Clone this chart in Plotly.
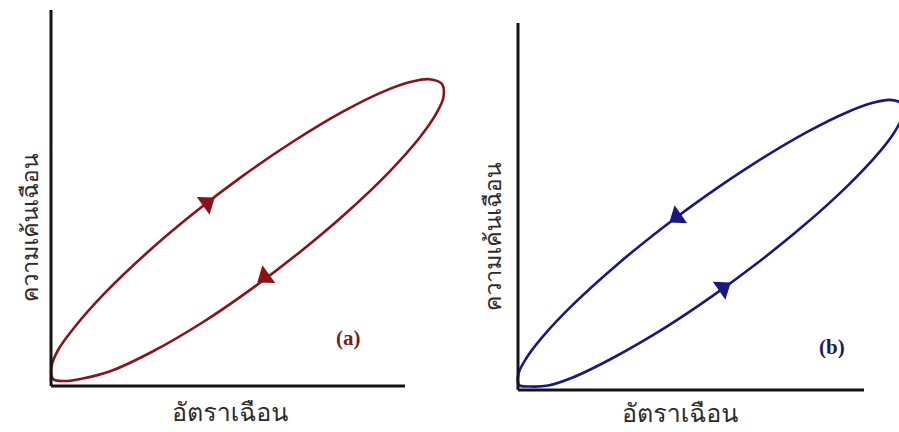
import math
import plotly.graph_objects as go

# Hysteresis loop (a): shear rate vs shear stress, traced in flow order
rate_a = [143.3, 191.1, 240.6, 292.3, 333.5, 360.3, 378.4, 391.0, 392.4, 384.9,
          368.7, 338.3, 294.6, 248.7, 200.9, 151.4, 99.7, 58.5, 31.7, 13.6,
          2.0, 0.5, 7.1, 23.3, 53.7, 97.4, 143.3]
stress_a = [173.2, 209.6, 243.5, 274.6, 294.9, 304.2, 306.8, 302.0, 288.6, 271.8,
            248.5, 214.2, 172.5, 133.8, 97.4, 63.5, 33.5, 14.5, 7.5, 5.0,
            7.0, 19.5, 36.0, 58.5, 92.8, 134.5, 173.2]

# Hysteresis loop (b): traced against flow order
rate_b = [147.3, 187.5, 237.5, 289.3, 330.3, 354.8, 372.5, 384.0, 384.5, 376.4,
          360.7, 329.3, 284.5, 237.7, 197.5, 147.5, 95.7, 54.7, 30.2, 12.5,
          1.0, 0.5, 8.6, 24.3, 55.7, 100.5, 147.3]
stress_b = [164.3, 193.9, 227.4, 258.1, 278.3, 287.2, 290.1, 286.0, 273.9, 257.8,
            237.1, 203.9, 163.4, 125.7, 96.1, 62.6, 32.5, 12.5, 4.5, 3.5,
            5.0, 16.5, 32.2, 52.9, 86.1, 126.6, 164.3]

# Flow-direction arrows on each branch
arrow_a_rate = [156, 214]
arrow_a_stress = [183, 109]
arrow_b_rate = [159, 205]
arrow_b_stress = [173, 102]

axis_len_a = (354, 376)
axis_len_b = (346, 367)

x_title = "อัตราเฉือน"
y_title = "ความเค้นเฉือน"
panel_labels = ["(a)", "(b)"]

RED = "rgb(138,18,24)"
BLUE = "rgb(24,24,128)"
INK = "#141414"
TEXT = "#2b2b2b"
THAI_FONT = "Norasi, Kinnari, Garuda, Loma, Noto Serif Thai, Noto Sans Thai, serif"


def headings(lx, ly, ax, ay, sense):
    """Marker angles (clockwise from north) following the loop at each arrow."""
    out = []
    for px, py in zip(ax, ay):
        i = min(range(1, len(lx) - 1), key=lambda k: (lx[k] - px) ** 2 + (ly[k] - py) ** 2)
        dx = (lx[i + 1] - lx[i - 1]) * sense
        dy = (ly[i + 1] - ly[i - 1]) * sense
        out.append(math.degrees(math.atan2(dx, dy)))
    return out


fig = go.Figure()

for lx, ly, ax, ay, sense, col, xa, ya in [
    (rate_a, stress_a, arrow_a_rate, arrow_a_stress, 1, RED, "x", "y"),
    (rate_b, stress_b, arrow_b_rate, arrow_b_stress, -1, BLUE, "x2", "y2"),
]:
    fig.add_trace(go.Scatter(
        x=lx, y=ly, mode="lines", xaxis=xa, yaxis=ya,
        line=dict(color=col, width=2.6, shape="spline", smoothing=1.0),
        hoverinfo="skip", showlegend=False,
    ))
    fig.add_trace(go.Scatter(
        x=ax, y=ay, mode="markers", xaxis=xa, yaxis=ya,
        marker=dict(symbol="triangle-up", size=19, color=col,
                    angle=headings(lx, ly, ax, ay, sense), line=dict(width=0)),
        hoverinfo="skip", showlegend=False,
    ))

shapes = []
for (lenx, leny), xr, yr in [(axis_len_a, "x", "y"), (axis_len_b, "x2", "y2")]:
    shapes.append(dict(type="line", xref=xr, yref=yr, x0=0, y0=0, x1=lenx, y1=0,
                       line=dict(color=INK, width=3)))
    shapes.append(dict(type="line", xref=xr, yref=yr, x0=0, y0=0, x1=0, y1=leny,
                       line=dict(color=INK, width=3)))

annotations = []
for (lenx, leny), xr, yr, lab, labcol, lab_pos, xt, yt in [
    (axis_len_a, "x", "y", panel_labels[0], "rgb(120,28,30)", (297, 48), (179, -26), (-21, 158)),
    (axis_len_b, "x2", "y2", panel_labels[1], "rgb(28,28,90)", (314, 43), (162, -23), (-25, 153)),
]:
    annotations.append(dict(x=xt[0], y=xt[1], xref=xr, yref=yr, text=x_title,
                            showarrow=False, font=dict(family=THAI_FONT, size=25, color=TEXT)))
    annotations.append(dict(x=yt[0], y=yt[1], xref=xr, yref=yr, text=y_title,
                            textangle=-90, showarrow=False,
                            font=dict(family=THAI_FONT, size=23, color=TEXT)))
    annotations.append(dict(x=lab_pos[0], y=lab_pos[1], xref=xr, yref=yr,
                            text="<b>%s</b>" % lab, showarrow=False,
                            font=dict(family="Liberation Serif, serif", size=21, color=labcol)))

hidden = dict(visible=False, fixedrange=True)
split = 450 / 899
fig.update_layout(
    width=899, height=432,
    margin=dict(l=0, r=0, t=0, b=0),
    paper_bgcolor="white", plot_bgcolor="rgba(0,0,0,0)",
    xaxis=dict(domain=[0, split], range=[-51, 399], **hidden),
    yaxis=dict(domain=[0, 1], range=[-46, 386], **hidden),
    xaxis2=dict(domain=[split, 1], range=[-68, 381], anchor="y2", **hidden),
    yaxis2=dict(domain=[0, 1], range=[-42, 390], anchor="x2", **hidden),
    shapes=shapes, annotations=annotations,
)

fig.write_html("out.html")
